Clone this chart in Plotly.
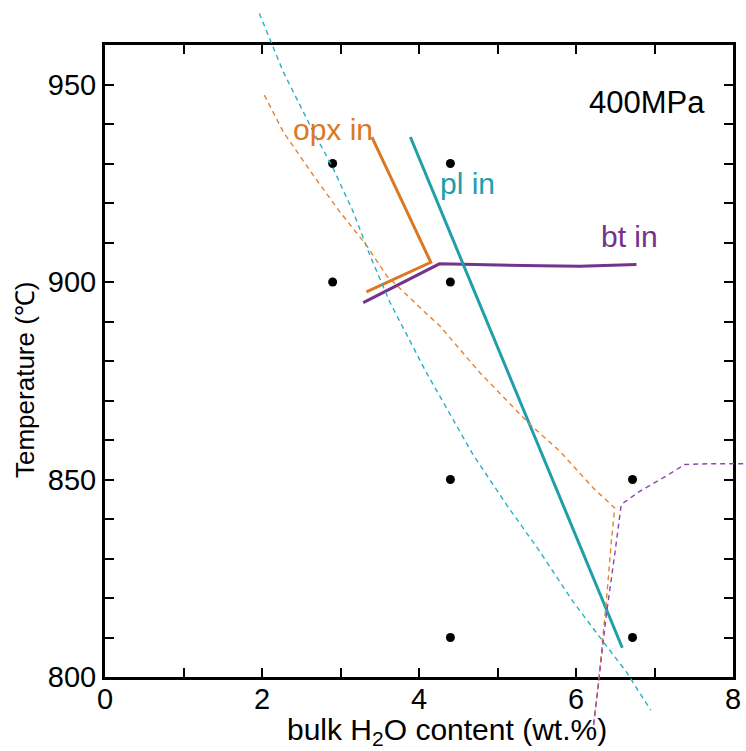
import plotly.graph_objects as go

# ---------------- data ----------------
# experimental run points (bulk H2O wt.%, temperature C)
dots_x = [2.9, 2.9, 4.4, 4.4, 4.4, 4.4, 6.72, 6.72]
dots_t = [930, 900, 930, 900, 850, 810, 850, 810]

# solid phase-in boundaries
opx_x = [3.40, 4.15, 3.33]
opx_t = [936.7, 905.0, 897.5]

bt_x = [3.29, 4.26, 5.54, 6.05, 6.77]
bt_t = [894.8, 904.6, 904.1, 904.0, 904.4]

pl_x = [3.89, 6.59]
pl_t = [936.7, 807.4]

# dashed boundaries (extend beyond the frame)
pl_d_x = [1.966, 2.271, 2.611, 2.908, 3.163, 3.376, 3.631, 4.093, 4.688, 5.112, 5.538, 5.962, 6.344, 6.641, 6.952]
pl_d_t = [968.0, 953.2, 939.7, 928.7, 917.7, 906.7, 894.8, 877.1, 856.3, 843.7, 831.8, 819.1, 809.0, 801.3, 791.6]

opx_d_x = [2.03, 2.271, 2.654, 2.994, 3.334, 3.588, 4.034, 4.264, 4.773, 5.410, 5.792, 6.217, 6.493, 6.450, 6.386, 6.322, 6.280, 6.225]
opx_d_t = [947.3, 938.0, 927.0, 917.7, 909.2, 901.6, 893.1, 888.9, 877.1, 864.0, 857.2, 847.9, 842.8, 834.3, 819.1, 805.6, 797.1, 788.5]

bt_d_x = [6.225, 6.30, 6.386, 6.493, 6.577, 6.811, 7.108, 7.385, 7.70, 8.25]
bt_d_t = [787.8, 800.5, 815.7, 831.0, 843.7, 847.0, 850.4, 853.8, 854.0, 854.0]

x_tickvals = [0, 1, 2, 3, 4, 5, 6, 7, 8]
x_ticktext = ["0", "", "2", "", "4", "", "6", "", "8"]
y_tickvals = [800, 810, 820, 830, 840, 850, 860, 870, 880, 890, 900, 910, 920, 930, 940, 950]
y_ticktext = ["800", "", "", "", "", "850", "", "", "", "", "900", "", "", "", "", "950"]

x_range = [0, 8]
y_range = [800, 960]

# ---------------- style ----------------
ORANGE = "rgb(219,120,35)"
TEAL = "rgb(32,158,170)"
PURPLE = "rgb(115,50,140)"
ORANGE_D = "rgb(232,128,45)"
TEAL_D = "rgb(40,175,200)"
PURPLE_D = "rgb(140,70,175)"
FONT = "Liberation Sans, Arial, Helvetica, sans-serif"

W, H = 746, 751
xd = [105 / W, 733 / W]
yd = [(H - 677) / H, (H - 45) / H]

# full-paper overlay axes using the same scale, so dashed curves may run past the frame
sx = (x_range[1] - x_range[0]) / (xd[1] - xd[0])
sy = (y_range[1] - y_range[0]) / (yd[1] - yd[0])
x2_range = [x_range[0] - xd[0] * sx, x_range[1] + (1 - xd[1]) * sx]
y2_range = [y_range[0] - yd[0] * sy, y_range[1] + (1 - yd[1]) * sy]

fig = go.Figure()

dash_style = "5px,4px"
fig.add_trace(go.Scatter(x=pl_d_x, y=pl_d_t, mode="lines", xaxis="x2", yaxis="y2",
                         line=dict(color=TEAL_D, width=1.4, dash=dash_style), showlegend=False))
fig.add_trace(go.Scatter(x=opx_d_x, y=opx_d_t, mode="lines", xaxis="x2", yaxis="y2",
                         line=dict(color=ORANGE_D, width=1.4, dash=dash_style), showlegend=False))
fig.add_trace(go.Scatter(x=bt_d_x, y=bt_d_t, mode="lines", xaxis="x2", yaxis="y2",
                         line=dict(color=PURPLE_D, width=1.4, dash=dash_style), showlegend=False))

fig.add_trace(go.Scatter(x=opx_x, y=opx_t, mode="lines",
                         line=dict(color=ORANGE, width=3), showlegend=False))
fig.add_trace(go.Scatter(x=bt_x, y=bt_t, mode="lines",
                         line=dict(color=PURPLE, width=3), showlegend=False))
fig.add_trace(go.Scatter(x=pl_x, y=pl_t, mode="lines",
                         line=dict(color=TEAL, width=3), showlegend=False))
fig.add_trace(go.Scatter(x=dots_x, y=dots_t, mode="markers",
                         marker=dict(color="black", size=9), showlegend=False))

axis_common = dict(showline=True, linewidth=3, linecolor="black", mirror="ticks",
                   ticks="inside", ticklen=9, tickwidth=2, tickcolor="black",
                   showgrid=False, zeroline=False,
                   tickfont=dict(family=FONT, size=29, color="black"))

fig.update_layout(
    width=W, height=H,
    margin=dict(l=0, r=0, t=0, b=0, autoexpand=False),
    paper_bgcolor="white", plot_bgcolor="rgba(0,0,0,0)",
    xaxis=dict(domain=xd, range=x_range, tickmode="array", tickvals=x_tickvals,
               ticktext=x_ticktext, anchor="y", ticklabelstandoff=-6, **axis_common),
    yaxis=dict(domain=yd, range=y_range, tickmode="array", tickvals=y_tickvals,
               ticktext=y_ticktext, anchor="x", ticklabelstandoff=0, **axis_common),
    xaxis2=dict(domain=[0, 1], range=x2_range, anchor="y2", visible=False, fixedrange=True),
    yaxis2=dict(domain=[0, 1], range=y2_range, anchor="x2", visible=False, fixedrange=True),
    annotations=[
        dict(x=2.90, y=938.5, xref="x", yref="y", text="opx in", showarrow=False,
             font=dict(family=FONT, size=30, color=ORANGE)),
        dict(x=4.62, y=925.0, xref="x", yref="y", text="pl in", showarrow=False,
             font=dict(family=FONT, size=30, color=TEAL)),
        dict(x=6.68, y=911.5, xref="x", yref="y", text="bt in", showarrow=False,
             font=dict(family=FONT, size=30, color=PURPLE)),
        dict(x=6.91, y=945.5, xref="x", yref="y", text="400MPa", showarrow=False,
             font=dict(family=FONT, size=31, color="black")),
        dict(x=447 / W, y=(H - 731) / H, xref="paper", yref="paper",
             xanchor="center", yanchor="middle",
             text="bulk H<sub>2</sub>O content (wt.%)", showarrow=False,
             font=dict(family=FONT, size=30, color="black")),
        dict(x=25 / W, y=(H - 380) / H, xref="paper", yref="paper",
             xanchor="center", yanchor="middle",
             text="Temperature (℃)", textangle=-90, showarrow=False,
             font=dict(family=FONT, size=26, color="black")),
    ],
)

fig.write_html("out.html")
